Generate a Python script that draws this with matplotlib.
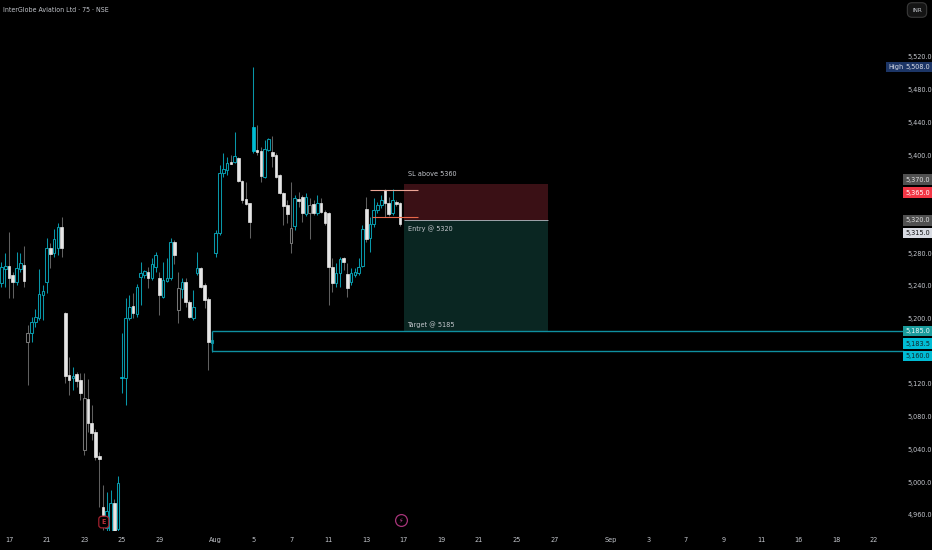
import numpy as np
import matplotlib.pyplot as plt
from matplotlib.patches import Rectangle
from matplotlib.transforms import blended_transform_factory

plt.rcParams['font.family'] = ['DejaVu Sans Condensed', 'Liberation Sans Narrow', 'DejaVu Sans']
plt.rcParams['font.stretch'] = 'condensed'

# -------- 75 min candles, InterGlobe Aviation --------
opens = [5243, 5261, 5264, 5253, 5245, 5261, 5265, 5171, 5182, 5196,
         5201, 5229, 5245, 5286, 5280, 5286, 5312, 5207, 5131, 5127,
         5132, 5125, 5039, 5102, 5072, 5061, 5032, 4969, 4944, 4938,
         4974, 4942, 5129, 5127, 5201, 5215, 5206, 5251, 5253, 5257,
         5250, 5263, 5250, 5226, 5246, 5250, 5294, 5210, 5236, 5245,
         5220, 5201, 5256, 5262, 5241, 5224, 5170, 5280, 5305, 5378,
         5382, 5391, 5391, 5396, 5368, 5346, 5341, 5434, 5406, 5405,
         5373, 5406, 5404, 5400, 5375, 5353, 5339, 5292, 5313, 5346,
         5349, 5328, 5329, 5340, 5329, 5341, 5330, 5329, 5263, 5243,
         5256, 5274, 5254, 5245, 5253, 5256, 5264, 5334, 5298, 5316,
         5333, 5339, 5357, 5341, 5329, 5342, 5341]
highs = [5269, 5280, 5306, 5257, 5281, 5280, 5289, 5192, 5202, 5212,
         5261, 5241, 5298, 5292, 5309, 5317, 5324, 5208, 5153, 5141,
         5135, 5133, 5133, 5126, 5094, 5065, 5037, 4996, 4988, 4990,
         4979, 5007, 5182, 5225, 5229, 5231, 5242, 5269, 5259, 5263,
         5274, 5281, 5257, 5269, 5274, 5298, 5296, 5257, 5250, 5250,
         5223, 5235, 5281, 5263, 5243, 5226, 5184, 5308, 5388, 5402,
         5398, 5400, 5428, 5398, 5369, 5367, 5341, 5508, 5437, 5410,
         5418, 5421, 5423, 5402, 5377, 5355, 5345, 5367, 5351, 5355,
         5351, 5353, 5347, 5345, 5351, 5347, 5333, 5330, 5274, 5268,
         5275, 5275, 5268, 5262, 5262, 5274, 5314, 5349, 5324, 5347,
         5342, 5351, 5358, 5349, 5358, 5345, 5342]
lows = [5238, 5239, 5225, 5225, 5241, 5257, 5238, 5119, 5171, 5190,
        5198, 5198, 5231, 5262, 5275, 5278, 5275, 5121, 5106, 5112,
        5116, 5100, 5033, 5061, 5051, 5027, 4969, 4941, 4935, 4932,
        4932, 4935, 5109, 5094, 5198, 5201, 5202, 5216, 5249, 5237,
        5247, 5257, 5204, 5225, 5245, 5247, 5267, 5194, 5225, 5214,
        5201, 5198, 5253, 5237, 5213, 5137, 5159, 5275, 5302, 5373,
        5375, 5389, 5390, 5367, 5341, 5339, 5298, 5402, 5400, 5367,
        5372, 5405, 5385, 5372, 5352, 5314, 5317, 5280, 5308, 5336,
        5318, 5325, 5297, 5327, 5327, 5329, 5314, 5216, 5232, 5238,
        5238, 5259, 5226, 5241, 5251, 5253, 5263, 5294, 5281, 5312,
        5329, 5335, 5324, 5325, 5327, 5338, 5313]
closes = [5263, 5264, 5250, 5245, 5262, 5268, 5246, 5182, 5196, 5202,
          5230, 5234, 5286, 5279, 5297, 5312, 5286, 5130, 5125, 5130,
          5124, 5109, 5103, 5072, 5060, 5031, 5028, 4960, 4965, 4974,
          4940, 4999, 5127, 5201, 5214, 5207, 5238, 5256, 5258, 5250,
          5267, 5278, 5229, 5247, 5250, 5294, 5278, 5237, 5245, 5220,
          5202, 5214, 5262, 5238, 5223, 5171, 5174, 5305, 5378, 5383,
          5390, 5389, 5399, 5368, 5345, 5340, 5318, 5405, 5404, 5374,
          5407, 5420, 5399, 5373, 5353, 5338, 5328, 5311, 5347, 5344,
          5329, 5349, 5339, 5329, 5341, 5330, 5317, 5263, 5243, 5256,
          5273, 5269, 5237, 5256, 5257, 5263, 5310, 5297, 5316, 5333,
          5339, 5345, 5341, 5328, 5345, 5340, 5315]
first_bar = -2          # two bars of 16 Jul before the 17 Jul label
bars_per_day = 5

date_labels = ['17', '21', '23', '25', '29', 'Aug', '5', '7', '11', '13', '17',
               '19', '21', '25', '27', 'Sep', '3', '7', '9', '11', '16', '18', '22']
date_days = [0, 2, 4, 6, 8, 11, 13, 15, 17, 19, 21, 23, 25, 27, 29, 32, 34,
             36, 38, 40, 42, 44, 46]

price_ticks = list(range(4960, 5521, 40))

# -------- trade plan levels --------
high_price = 5508.0
ray_price = 5370.0
stop_price = 5365.0
entry_price = 5320.0
last_price = 5315.0
target_price = 5185.0
mid_price = 5183.5
box_low = 5160.0
sl_line = 5357.0
entry_line = 5324.5

BG = '#000000'
TEAL = '#0897a8'
CYAN = '#00bcd4'
WHITE = '#e6e6e6'
GRAY = '#606060'
TXT = '#c3c6cc'
FS = 5.2

fig = plt.figure(figsize=(9.32, 5.5), dpi=100, facecolor=BG)
ax = fig.add_axes([0, 19 / 550, 904 / 932, 531 / 550])
ax.set_facecolor(BG)

# -------- candles (TradingView hollow style) --------
for i in range(len(opens)):
    x = first_bar + i
    o, h, l, c = opens[i], highs[i], lows[i], closes[i]
    prev = closes[i - 1] if i > 0 else o
    w = 0.7
    bottom = min(o, c)
    height = max(abs(c - o), 1.2)
    if c >= prev:
        ax.vlines(x, l, h, color=TEAL, lw=0.75, zorder=2)
        if c >= o:
            ax.add_patch(Rectangle((x - w / 2, bottom), w, height, fc=BG,
                                   ec=TEAL, lw=0.75, zorder=3))
        else:
            ax.add_patch(Rectangle((x - w / 2, bottom), w, height, fc=CYAN,
                                   ec=CYAN, lw=0.5, zorder=3))
    else:
        ax.vlines(x, l, h, color=GRAY, lw=0.75, zorder=2)
        if c < o:
            ax.add_patch(Rectangle((x - w / 2, bottom), w, height, fc=WHITE,
                                   ec=WHITE, lw=0.5, zorder=3))
        else:
            ax.add_patch(Rectangle((x - w / 2, bottom), w, height, fc=BG,
                                   ec='#757575', lw=0.75, zorder=3))

# -------- short position tool --------
zone_x0, zone_x1 = 105, 143.3
ax.add_patch(Rectangle((zone_x0, entry_price), zone_x1 - zone_x0,
                       stop_price - entry_price, fc='#3a1015', ec='none', zorder=1))
ax.add_patch(Rectangle((zone_x0, target_price), zone_x1 - zone_x0,
                       entry_price - target_price, fc='#0a2622', ec='none', zorder=1))
ax.hlines(entry_price, zone_x0, zone_x1, color='#a0a4ac', lw=0.7, zorder=2)
ax.text(zone_x0 + 1, 5377, 'SL above 5360', color=TXT, fontsize=FS, va='center')
ax.text(zone_x0 + 1, 5310.5, 'Entry @ 5320', color=TXT, fontsize=FS, va='center')
ax.text(zone_x0 + 1, 5192, 'Target @ 5185', color=TXT, fontsize=FS, va='center')

# drawn stop / entry marks
ax.hlines(sl_line, 96, 108.8, color='#eca596', lw=0.8, zorder=4)
ax.hlines(entry_line, 96.5, 108.8, color='#e8674a', lw=0.8, zorder=4)

# -------- target box --------
ax.hlines([target_price, box_low], 54, 260, color='#0f8fa0', lw=1.0, zorder=4)
ax.vlines(54, box_low, target_price, color='#0f8fa0', lw=1.0, zorder=4)

# -------- event markers --------
ax.text(25.2, 4951, 'E', color='#c0303c', fontsize=5, ha='center', va='center',
        fontweight='bold', zorder=5,
        bbox=dict(boxstyle='round,pad=0.4', fc=BG, ec='#a0202e', lw=0.9))
ax.plot(104.3, 4953, 'o', ms=8.5, mfc=BG, mec='#a8357a', mew=0.9, zorder=5)
ax.text(104.3, 4953, '\u26a1', color='#c04090', fontsize=5, ha='center',
        va='center', family='DejaVu Sans', zorder=6)

# -------- axes --------
ax.set_xlim(-9 / 3.76, (904 - 9) / 3.76)
ax.set_ylim(4940.1, 5589.6)
for s in ax.spines.values():
    s.set_visible(False)

ax.set_xticks([d * bars_per_day for d in date_days])
ax.set_xticklabels(date_labels)
ax.yaxis.tick_right()

# the tags on the price scale hide the tick labels beneath them
tag_prices = [ray_price, stop_price, entry_price, last_price,
              target_price, mid_price, box_low]
shown_ticks = [p for p in price_ticks
               if min(abs(p - t) for t in tag_prices) > 10]
ax.set_yticks(shown_ticks)
ax.set_yticklabels([f'{p:,.1f}' for p in shown_ticks])
ax.tick_params(axis='x', length=0, pad=4, labelsize=FS, labelcolor=TXT)
ax.tick_params(axis='y', length=0, pad=2.5, labelsize=FS, labelcolor=TXT)

# -------- price scale tags --------
trans = blended_transform_factory(ax.transAxes, ax.transData)


def tag(price, text, bg, fg, dy=0, dx=13.5):
    ax.annotate(text, xy=(1.0, price), xycoords=trans, xytext=(dx, dy),
                textcoords='offset pixels', ha='center', va='center',
                fontsize=FS, color=fg, annotation_clip=False, zorder=10,
                bbox=dict(boxstyle='square,pad=0.3', fc=bg, ec='none'))


tag(high_price, f'{high_price:,.1f}', '#1c3566', '#d8dce6')
tag(high_price, 'High', '#1c3566', '#d8dce6', dx=-8)
tag(ray_price, f'{ray_price:,.1f}', '#505050', '#e0e0e0', dy=0)
tag(stop_price, f'{stop_price:,.1f}', '#f23645', '#ffffff', dy=-9)
tag(entry_price, f'{entry_price:,.1f}', '#505050', '#e0e0e0', dy=0)
tag(last_price, f'{last_price:,.1f}', '#d8dbe2', '#131313', dy=-8.5)
tag(target_price, f'{target_price:,.1f}', '#1a9c9c', '#e8f6f6', dy=0)
tag(mid_price, f'{mid_price:,.1f}', '#00bcd4', '#10262b', dy=-11.5)
tag(box_low, f'{box_low:,.1f}', '#00bcd4', '#10262b', dy=-5)

# -------- header --------
fig.text(3 / 932, 1 - 10 / 550, 'InterGlobe Aviation Ltd \u00b7 75 \u00b7 NSE',
         color=TXT, fontsize=5.0, va='center', ha='left')
fig.text(917 / 932, 1 - 10 / 550, 'INR', color=TXT, fontsize=4.6, va='center',
         ha='center', bbox=dict(boxstyle='round,pad=0.75', fc='#141414',
                                ec='#3a3a3a', lw=0.8))

fig.savefig('out.png', dpi=100, facecolor=BG)
